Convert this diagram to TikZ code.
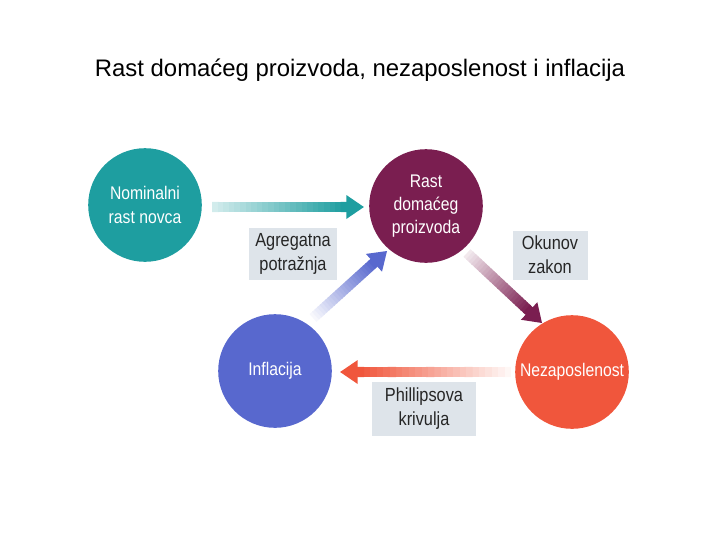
\documentclass[tikz,border=0pt]{standalone}
\usepackage{fontspec}
\setmainfont{Liberation Sans}
\newfontfamily\uzakfont[FakeStretch=0.86]{Liberation Sans}
\usetikzlibrary{calc}

\definecolor{tirkiz}{RGB}{30,158,160}
\definecolor{bordo}{RGB}{122,30,80}
\definecolor{plava}{RGB}{88,104,206}
\definecolor{narancasta}{RGB}{240,86,60}
\definecolor{okvirboja}{RGB}{222,228,234}

%% debela strelica s prijelazom boje: rep, vrh, boja, pocetni postotak
\newcommand{\debelastrelica}[4]{%
  \coordinate (hb) at ($(#2)!\hl!(#1)$);
  \foreach \i in {0,...,23}{%
    \pgfmathsetmacro{\ta}{\i/24}
    \pgfmathsetmacro{\tb}{(\i+1.3)/24}
    \pgfmathsetmacro{\pct}{#4+(100-#4)*\i/23}
    \draw[line width=\sw, #3!\pct!white] ($(#1)!\ta!(hb)$) -- ($(#1)!\tb!(hb)$);
  }
  \fill[#3] (#2) -- ($(hb)!\hw!90:(#2)$) -- ($(hb)!\hw!-90:(#2)$) -- cycle;
}

\begin{document}
\begin{tikzpicture}[x=0.025cm, y=-0.025cm,
    krug/.style={circle, minimum size=2.84cm, inner sep=0pt, align=center, text=white,
      font=\uzakfont\fontsize{13}{16.5}\selectfont},
    okvir/.style={fill=okvirboja, inner sep=0pt, align=center, text=black!85,
      font=\uzakfont\fontsize{13.5}{17}\selectfont}]
  \useasboundingbox (0,0) rectangle (720,540);
  \def\sw{0.26cm}   %% debljina tijela strelice
  \def\hl{0.44cm}   %% duljina vrha
  \def\hw{0.3cm}    %% pola sirine vrha

  %% naslov
  \node[anchor=base, font=\fontsize{17}{20}\selectfont] (naslov) at (360,76)
    {Rast domaćeg proizvoda, nezaposlenost i inflacija};

  %% krugovi
  \node[krug, fill=tirkiz] (nom) at (145,205) {Nominalni\\rast novca};
  \node[krug, fill=bordo] (rast) at (426,206) {Rast\\domaćeg\\proizvoda};
  \node[krug, fill=plava] (infl) at (275,371) {Inflacija};
  \node[krug, fill=narancasta] (nez) at (572,372) {Nezaposlenost};

  %% okviri s oznakama
  \node[okvir, minimum width=2.175cm, minimum height=1.3cm] (agr) at (293,254) {Agregatna\\potražnja};
  \node[okvir, minimum width=1.875cm, minimum height=1.225cm] (oku) at (550,255) {Okunov\\zakon};
  \node[okvir, minimum width=2.6cm, minimum height=1.35cm] (phi) at (424,409) {Phillipsova\\krivulja};

  %% krajevi strelica
  \coordinate (t1) at ($(nom.east)+(10,2)$);
  \coordinate (v1) at ($(rast.west)+(-5,1)$);
  \coordinate (t2) at ($(infl.center)+(38,-53)$);
  \coordinate (v2) at ($(rast.center)+(-39,45)$);
  \coordinate (t3) at ($(rast.center)+(41,47)$);
  \coordinate (v3) at ($(nez.center)+(-30,-49)$);
  \coordinate (t4) at ($(nez.west)+(-4,0)$);
  \coordinate (v4) at ($(infl.east)+(8,1)$);

  %% strelice
  \debelastrelica{t1}{v1}{tirkiz}{20}
  \debelastrelica{t2}{v2}{plava}{5}
  \debelastrelica{t3}{v3}{bordo}{10}
  \debelastrelica{t4}{v4}{narancasta}{5}
\end{tikzpicture}
\end{document}
